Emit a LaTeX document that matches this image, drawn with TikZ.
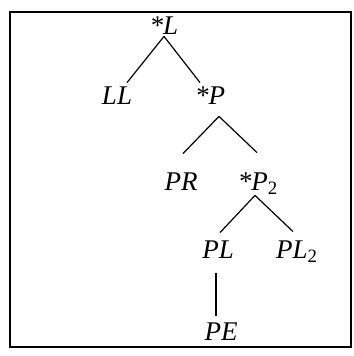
\documentclass[tikz,border=0pt]{standalone}
\usepackage{fontspec}
\setmainfont{Liberation Serif}
\usepackage{tikz}

\begin{document}
\begin{tikzpicture}[x=0.5pt, y=-0.5pt,
    lbl/.style={font=\fontsize{13.5}{15}\selectfont\itshape, inner sep=0.7pt,
      text height=8.6pt, text depth=0pt},
    br/.style={line width=0.6pt},
    frm/.style={line width=0.7pt}
  ]
    \useasboundingbox (0,0) rectangle (353,356);
    \draw[frm] (10,12) rectangle (351,347);
    % root
    \node[lbl] (L) at (164,26) {*L};
    % level 1
    \node[lbl] (LL) at (117,96) {LL};
    \node[lbl] (P) at (210,96) {*P};
    % level 2
    \node[lbl] (PR) at (181,182) {PR};
    \node[lbl] (P2) at (258,182) {*P\textsubscript{\upshape 2}};
    % level 3
    \node[lbl] (PL) at (218,250) {PL};
    \node[lbl] (PL2) at (297,250) {PL\textsubscript{\upshape 2}};
    % leaf
    \node[lbl] (PE) at (221,332) {PE};
    % branches
    \draw[br] (L.south) -- ([xshift=5pt, yshift=1.5pt]LL.north);
    \draw[br] (L.south) -- ([xshift=-5pt, yshift=1.5pt]P.north);
    \draw[br] ([xshift=4.5pt, yshift=-5pt]P.south) -- ([xshift=1pt, yshift=9pt]PR.north);
    \draw[br] ([xshift=4.5pt, yshift=-5pt]P.south) -- ([xshift=-0.5pt, yshift=9.5pt]P2.north);
    \draw[br] ([xshift=-1.5pt, yshift=-1.5pt]P2.south) -- ([xshift=1pt, yshift=3.5pt]PL.north);
    \draw[br] ([xshift=-1.5pt, yshift=-1.5pt]P2.south) -- ([xshift=-2pt, yshift=4pt]PL2.north);
    \draw[br] ([xshift=-1pt, yshift=-6.5pt]PL.south) -- ([xshift=-2.5pt, yshift=3pt]PE.north);
\end{tikzpicture}
\end{document}
